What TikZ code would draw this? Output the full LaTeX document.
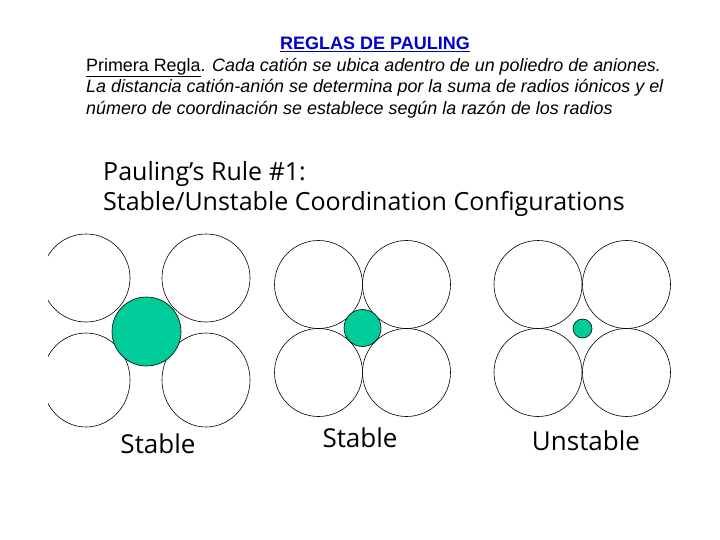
\documentclass[tikz,border=0pt]{standalone}
\usepackage{fontspec}
\setmainfont{Liberation Sans}
\newfontfamily\comic{Open Sans}
\definecolor{ctn}{RGB}{0,204,153}
\definecolor{ttl}{RGB}{0,0,204}
\begin{document}
\begin{tikzpicture}[x=1pt,y=-1pt,
  anion/.style={draw=black,line width=0.6pt},
  cation/.style={draw=black,line width=0.6pt,fill=ctn},
  hdr/.style={font=\fontsize{17.9}{21}\selectfont, inner sep=0pt, anchor=base west},
  comictxt/.style={font=\comic\fontsize{25}{29}\selectfont, inner sep=0pt},
  lbl/.style={font=\comic\fontsize{26}{30}\selectfont, inner sep=0pt, anchor=base}]
\useasboundingbox[fill=white] (0,0) rectangle (720,540);
% header
\node[font=\fontsize{18}{21}\selectfont\bfseries, text=ttl, inner sep=0pt, anchor=base] (title) at (375,50) {\underline{REGLAS DE PAULING}};
\node[hdr] (l1) at (86,71.5) {\underline{Primera Regla}. \textit{Cada catión se ubica adentro de un poliedro de aniones.}};
\node[hdr] (l2) at (86,93) {\textit{La distancia catión-anión se determina por la suma de radios iónicos y el}};
\node[hdr] (l3) at (86,115) {\textit{número de coordinación se establece según la razón de los radios}};
% comic title
\node[comictxt, anchor=base west] (r1) at (103,181) {Pauling’s Rule \#1:};
\node[comictxt, anchor=base west] (r2) at (103,211) {Stable/Unstable Coordination Configurations};
% left group
\begin{scope}
\clip (48,200) rectangle (720,470);
\draw[anion] (86,278) circle[radius=44];
\draw[anion] (206,278) circle[radius=44];
\draw[anion] (86,380) ellipse[x radius=44, y radius=47];
\draw[anion] (206,380) ellipse[x radius=44, y radius=47];
\end{scope}
\draw[cation] (146.5,331.5) circle[radius=34.5];
\node[lbl] (s1) at (158,453) {Stable};
% middle group
\draw[anion] (318.5,284.5) circle[radius=44];
\draw[anion] (406.5,284.5) circle[radius=44];
\draw[anion] (318.5,372.5) circle[radius=44];
\draw[anion] (406.5,372.5) circle[radius=44];
\draw[cation] (362.5,328) circle[radius=18.5];
\node[lbl] (s2) at (360,447) {Stable};
% right group
\draw[anion] (538,284.5) circle[radius=44];
\draw[anion] (626.5,284.5) circle[radius=44];
\draw[anion] (538,372.5) circle[radius=44];
\draw[anion] (626.5,372.5) circle[radius=44];
\draw[cation] (582.5,328.5) circle[radius=9.5];
\node[lbl] (s3) at (586,450) {Unstable};
\end{tikzpicture}
\end{document}
